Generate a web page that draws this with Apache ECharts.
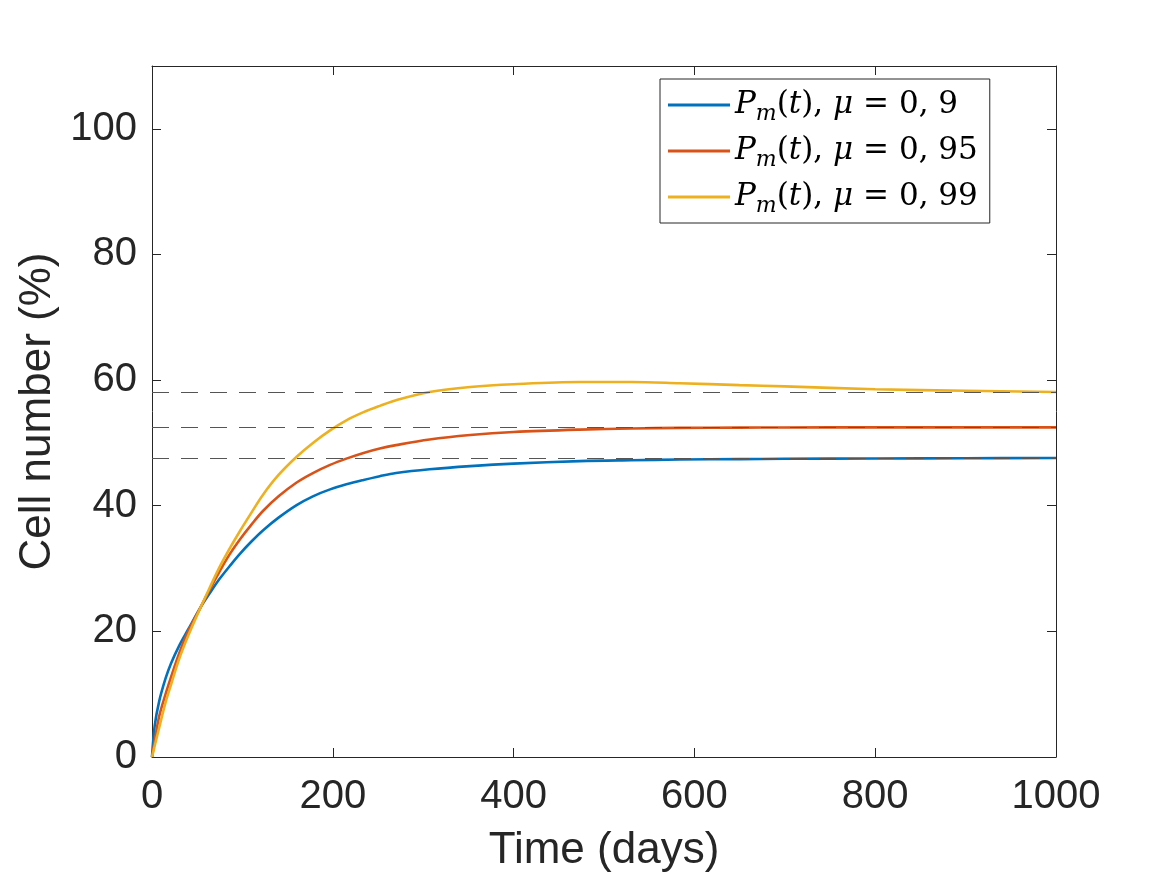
<!DOCTYPE html>
<html>
<head>
<meta charset="utf-8">
<script src="https://cdn.jsdelivr.net/npm/echarts@6/dist/echarts.min.js"></script>
<style>
  html, body { margin: 0; background: #fff; }
  #chart { width: 1167px; height: 875px; }
</style>
</head>
<body>
<div id="chart"></div>
<script>
// values
const days = [0, 3, 8, 15, 21, 30, 40, 54, 64, 75, 86, 97, 110, 123, 140, 160, 178, 197, 215,
  234, 252, 270, 307, 352, 400, 473, 530, 584, 650, 700, 800, 900, 1000];
const pmMu090 = [0, 5.0, 8.9, 12.5, 14.9, 17.7, 20.3, 23.9, 26.1, 28.4, 30.4, 32.3, 34.3, 36.1,
  38.1, 40.1, 41.5, 42.6, 43.4, 44.1, 44.7, 45.2, 45.8, 46.3, 46.7, 47.1, 47.25, 47.35, 47.42,
  47.47, 47.52, 47.56, 47.6];
const pmMu095 = [0, 2.6, 6.5, 10.0, 12.7, 16.5, 20.0, 23.9, 26.7, 29.6, 32.3, 34.6, 37.0, 39.2,
  41.5, 43.7, 45.2, 46.5, 47.5, 48.4, 49.1, 49.65, 50.55, 51.25, 51.73, 52.12, 52.3, 52.39, 52.44,
  52.46, 52.48, 52.48, 52.48];
const pmMu099 = [0, 1.8, 4.7, 8.7, 11.5, 15.6, 19.3, 23.9, 27.0, 30.3, 33.2, 35.9, 38.9, 41.8,
  44.9, 47.8, 50.0, 52.0, 53.6, 54.9, 55.9, 56.8, 58.1, 58.9, 59.35, 59.7, 59.7, 59.5, 59.2,
  59.0, 58.55, 58.3, 58.1];
const muLabels = ['0, 9', '0, 95', '0, 99'];
const steadyStates = [58.0, 52.45, 47.5];

const colors = ['#0072BD', '#D95319', '#EDB120'];
const axisColor = '#262626';
const font = 'Liberation Sans, Arial, Helvetica, sans-serif';
const mathFont = 'DejaVu Serif, Liberation Serif, serif';

const chart = echarts.init(document.getElementById('chart'));

const curves = [pmMu090, pmMu095, pmMu099].map((vals, i) => ({
  name: 'mu' + i,
  type: 'line',
  data: days.map((t, k) => [t, vals[k]]),
  symbol: 'none',
  smooth: 0.35,
  lineStyle: { width: 2.6, color: colors[i] },
  itemStyle: { color: colors[i] },
  z: 2
}));

const guides = {
  name: 'steady',
  type: 'line',
  data: [],
  z: 5,
  markLine: {
    silent: true,
    symbol: 'none',
    label: { show: false },
    lineStyle: { type: [17, 12], color: '#555', width: 1 },
    data: steadyStates.map(v => ({ yAxis: v }))
  }
};

const tickStyle = { inside: true, length: 9, lineStyle: { color: axisColor, width: 1 } };
const lineStyle = { show: true, onZero: false, lineStyle: { color: axisColor, width: 1 } };
const labelStyle = { fontSize: 40, color: axisColor, fontFamily: font, formatter: v => String(v) };
const nameStyle = { fontSize: 44, color: axisColor, fontFamily: font };

chart.setOption({
  animation: false,
  backgroundColor: '#fff',
  grid: { left: 152, right: 111, top: 66, bottom: 118, outerBoundsMode: 'none', containLabel: false },
  xAxis: [{
    type: 'value', min: 0, max: 1000, interval: 200,
    axisLine: lineStyle, axisTick: tickStyle,
    axisLabel: Object.assign({ margin: 20 }, labelStyle),
    splitLine: { show: false },
    name: 'Time (days)', nameLocation: 'middle', nameGap: 72,
    nameTextStyle: nameStyle
  }, {
    type: 'value', position: 'top', min: 0, max: 1000, interval: 200,
    axisLine: lineStyle, axisTick: tickStyle,
    axisLabel: { show: false }, splitLine: { show: false }
  }],
  yAxis: [{
    type: 'value', min: 0, max: 110, interval: 20,
    axisLine: lineStyle, axisTick: tickStyle,
    axisLabel: Object.assign({ margin: 15, showMaxLabel: false }, labelStyle),
    splitLine: { show: false },
    name: 'Cell number (%)', nameLocation: 'middle', nameGap: 86,
    nameTextStyle: nameStyle
  }, {
    type: 'value', position: 'right', min: 0, max: 110, interval: 20,
    axisLine: lineStyle, axisTick: tickStyle,
    axisLabel: { show: false }, splitLine: { show: false }
  }],
  legend: {
    orient: 'vertical',
    left: 660, top: 79,
    data: ['mu0', 'mu1', 'mu2'],
    icon: 'rect',
    itemWidth: 62, itemHeight: 3, itemGap: 6,
    padding: [6, 12, 6, 8],
    borderColor: axisColor, borderWidth: 1,
    backgroundColor: '#fff',
    formatter: name => {
      const i = Number(name.slice(2));
      return '{i|P}{s|m}{r|(}{i|t}{r|), }{i|μ}{r| = ' + muLabels[i] + '}';
    },
    textStyle: {
      color: '#000',
      lineHeight: 40,
      rich: {
        i: { fontFamily: mathFont, fontStyle: 'italic', fontSize: 31, color: '#000', lineHeight: 40 },
        r: { fontFamily: mathFont, fontSize: 31, color: '#000', lineHeight: 40 },
        s: { fontFamily: mathFont, fontStyle: 'italic', fontSize: 22, color: '#000',
          verticalAlign: 'bottom', lineHeight: 40 }
      }
    }
  },
  series: curves.concat([guides])
});
</script>
</body>
</html>
